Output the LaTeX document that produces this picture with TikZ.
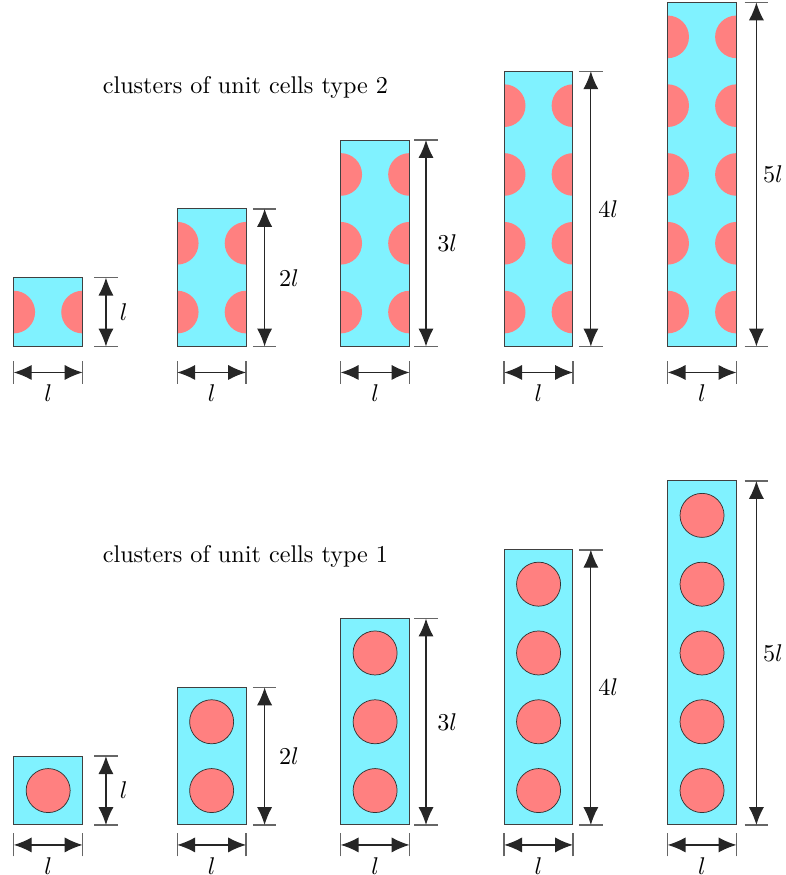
\documentclass[tikz,border=0pt]{standalone}
\usepackage{xcolor}
\usepackage{tikz}
\usetikzlibrary{arrows.meta}

\definecolor{cellblue}{RGB}{128,242,255}
\definecolor{holered}{RGB}{255,128,128}

\begin{document}
\begin{tikzpicture}[
  cellframe/.style={draw=black!75, line width=0.4pt},
  hole/.style={fill=holered, draw=black!80, line width=0.3pt},
  dimarrow/.style={{Latex[length=2.6mm,width=2.2mm]}-{Latex[length=2.6mm,width=2.2mm]}, draw=black!85, line width=0.5pt},
  dimtick/.style={draw=black!60, line width=0.6pt}]
  \useasboundingbox (0,0) rectangle (11.424,12.718);

  % titles
  \node[anchor=west] (title2) at (1.37,11.453) {clusters of unit cells type 2};
  \node[anchor=west] (title1) at (1.37,4.637) {clusters of unit cells type 1};

  % rows: type, base, offset of the width dimension
  \foreach \row/\base/\hoff in {2/7.682/0.378, 1/0.727/0.29} {
    \foreach \n/\dx/\lx in {1/0.34/1.80, 2/0.27/4.20, 3/0.24/6.50, 4/0.26/8.84, 5/0.29/11.235} {
      \pgfmathsetmacro\xl{0.2+2.376*(\n-1)}
      \coordinate (c\row\n-sw) at (\xl,\base);
      \coordinate (c\row\n-ne) at (\xl+1,\base+\n);
      \fill[cellblue] (c\row\n-sw) rectangle (c\row\n-ne);
      % holes
      \foreach \k in {1,...,\n} {
        \ifnum\row=2
          \fill[holered] (\xl,\base+\k-0.5) ++(-90:0.31) arc(-90:90:0.31) -- cycle;
          \fill[holered] (\xl+1,\base+\k-0.5) ++(90:0.31) arc(90:270:0.31) -- cycle;
        \else
          \draw[hole] (\xl+0.5,\base+\k-0.5) circle (0.32);
        \fi
      }
      \draw[cellframe] (c\row\n-sw) rectangle (c\row\n-ne);
      % height dimension
      \coordinate (v\row\n-b) at (\xl+1+\dx,\base);
      \coordinate (v\row\n-t) at (\xl+1+\dx,\base+\n);
      \draw[dimtick] (v\row\n-b) ++(-0.17,0) -- ++(0.34,0);
      \draw[dimtick] (v\row\n-t) ++(-0.17,0) -- ++(0.34,0);
      \draw[dimarrow] (v\row\n-b) -- (v\row\n-t);
      \ifnum\n=1 \def\lab{$l$}\else \def\lab{$\n l$}\fi
      \node (hl\row\n) at (\lx,\base+\n/2) {\lab};
      % width dimension
      \coordinate (h\row\n-l) at (\xl,\base-\hoff);
      \coordinate (h\row\n-r) at (\xl+1,\base-\hoff);
      \draw[dimtick] (h\row\n-l) ++(0,-0.167) -- ++(0,0.334);
      \draw[dimtick] (h\row\n-r) ++(0,-0.167) -- ++(0,0.334);
      \draw[dimarrow] (h\row\n-l) -- node[midway, below=1.5pt] (wl\row\n) {$l$} (h\row\n-r);
    }
  }
\end{tikzpicture}
\end{document}
